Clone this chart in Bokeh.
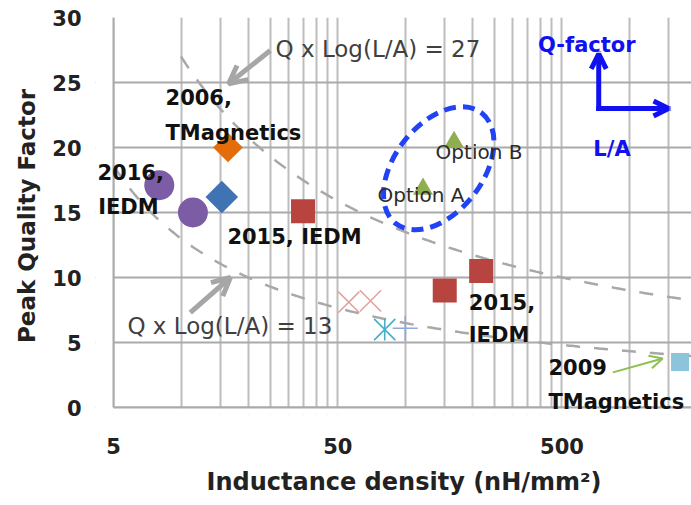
import numpy as np
from bokeh.plotting import figure
from bokeh.models import (FixedTicker, NumeralTickFormatter, Label, Arrow,
                          OpenHead, Range1d, Title)
from bokeh.embed import file_html
from bokeh.resources import INLINE

# ---- data: inductance density (nH/mm^2) vs. peak quality factor ----
tmag2006_x = [16.2]
tmag2006_y = [20.0]
blue_x = [15.2]
blue_y = [16.2]
iedm2016_x = [8.0, 11.3]
iedm2016_y = [17.1, 15.0]
iedm2015_x = [35.0, 150.0, 218.0]
iedm2015_y = [15.1, 9.0, 10.5]
tmag2009_x = [1680.0]
tmag2009_y = [3.5]
option_x = [120.0, 165.0]
option_y = [16.8, 20.4]
option_names = ["Option A", "Option B"]
xmark_x = [56.0, 70.0]
xmark_y = [8.1, 8.2]
star_x = [81.0]
star_y = [6.0]
plus_x = [100.0]
plus_y = [6.1]

# iso-lines Q x log10(L/A) = const
iso_levels = [27, 13]
iso_start = [10.0, 5.0]

x_ticks = [5, 50, 500]
x_minor = [10, 15, 20, 25, 30, 35, 40, 45,
           100, 150, 200, 250, 300, 350, 400, 450,
           1000, 1500]
y_ticks = [0, 5, 10, 15, 20, 25, 30]

X_AXIS_MIN, X_MAX = 5, 1890
Y_MIN, Y_MAX = 0, 30
# the frame is a little larger than the axes so that captions can hang
# over the axis lines; the extra strip is masked in white
PX_PER_DECADE = 224.2
PX_PER_UNIT = 13.0
PAD_LEFT, PAD_BOTTOM = 18, 7
X_LO = X_AXIS_MIN * 10 ** (-PAD_LEFT / PX_PER_DECADE)
Y_LO = Y_MIN - PAD_BOTTOM / PX_PER_UNIT

FONT = "DejaVu Sans"
GRID = "#bdbdbd"

p = figure(width=691, height=505, x_axis_type="log",
           x_range=Range1d(X_LO, X_MAX), y_range=Range1d(Y_LO, Y_MAX),
           output_backend="svg", toolbar_location=None,
           min_border_left=113 - PAD_LEFT, min_border_right=0,
           min_border_top=17, min_border_bottom=98 - PAD_BOTTOM)
p.outline_line_color = None
p.background_fill_color = "white"
p.border_fill_color = "white"

# axes and grid
p.xaxis.ticker = FixedTicker(ticks=x_ticks, minor_ticks=x_minor)
p.xaxis.formatter = NumeralTickFormatter(format="0")
p.yaxis.ticker = FixedTicker(ticks=y_ticks)
for ax in (p.xaxis[0], p.yaxis[0]):
    ax.axis_line_color = None
    ax.major_tick_line_color = None
    ax.minor_tick_line_color = None
    ax.major_label_text_font = FONT
    ax.major_label_text_font_style = "bold"
    ax.major_label_text_font_size = "21px"
    ax.major_label_text_color = "#222222"
    ax.axis_label_text_font = FONT
    ax.axis_label_text_font_style = "bold"
    ax.axis_label_text_color = "#222222"
p.xaxis.major_label_standoff = 24 - PAD_BOTTOM
p.yaxis.major_label_standoff = 26 - PAD_LEFT
p.yaxis.axis_label = "Peak Quality Factor"
p.yaxis.axis_label_text_font_size = "23px"
p.yaxis.axis_label_standoff = 9

# x title placed under the axis proper (not the padded frame)
p.add_layout(Title(text="Inductance density (nH/mm²)", align="left",
                   offset=111, standoff=19, text_font=FONT,
                   text_font_size="24px", text_font_style="bold",
                   text_color="#222222"), "below")

p.xgrid.grid_line_color = GRID
p.xgrid.grid_line_width = 2
p.xgrid.minor_grid_line_color = GRID
p.xgrid.minor_grid_line_width = 2
p.ygrid.grid_line_color = "#aaaaaa"
p.ygrid.grid_line_width = 2

# white strips outside the axes, then the axis lines themselves
p.quad(left=[X_LO, X_LO], right=[X_AXIS_MIN, X_MAX], bottom=[Y_LO, Y_LO],
       top=[Y_MAX, Y_MIN], fill_color="white", line_color=None)
p.line([X_AXIS_MIN, X_AXIS_MIN], [Y_MIN, Y_MAX], line_color="#aaaaaa",
       line_width=2)
p.line([X_AXIS_MIN, X_MAX], [Y_MIN, Y_MIN], line_color="#aaaaaa",
       line_width=2)

# dashed iso-Q lines
for level, start in zip(iso_levels, iso_start):
    L = np.geomspace(start, X_MAX, 300)
    p.line(L, level / np.log10(L), line_color="#a8a8a8", line_width=2.5,
           line_dash="14 14")

# markers
p.scatter(tmag2006_x, tmag2006_y, marker="square", angle=np.pi / 4, size=21,
          fill_color="#E46C0A", line_color=None)
p.scatter(blue_x, blue_y, marker="square", angle=np.pi / 4, size=23,
          fill_color="#3F73B3", line_color=None)
p.scatter(iedm2016_x, iedm2016_y, marker="circle", size=30,
          fill_color="#7C5CA4", line_color=None)
p.scatter(iedm2015_x, iedm2015_y, marker="square", size=24,
          fill_color="#B8443F", line_color=None)
p.scatter(tmag2009_x, tmag2009_y, marker="square", size=18,
          fill_color="#8CC5DB", line_color=None)
p.scatter(option_x, option_y, marker="triangle", size=20,
          fill_color="#8FAE4F", line_color=None)
p.scatter(xmark_x, xmark_y, marker="x", size=30, line_color="#E3A2A0",
          line_width=1.6)
# asterisk = diagonal cross plus a vertical stroke
p.scatter(star_x, star_y, marker="x", size=30, line_color="#4BACC6",
          line_width=1.6)
p.scatter(star_x, star_y, marker="dash", angle=np.pi / 2, size=22,
          line_color="#4BACC6", line_width=1.6)
p.scatter(plus_x, plus_y, marker="cross", size=25, line_color="#8EA9DB",
          line_width=1.6)

# dashed ring around the two options
p.ellipse(x=[141], y=[18.4], width=[140], height=[88], angle=[0.91],
          width_units="screen", height_units="screen",
          fill_color=None, line_color="#2142F5", line_width=5,
          line_dash="12 7")


def text(x, y, s, size="21px", bold=True, color="#111111", align="left",
         xo=0, yo=0):
    p.add_layout(Label(x=x, y=y, text=s, text_font=FONT,
                       text_font_style="bold" if bold else "normal",
                       text_font_size=size, text_color=color,
                       text_align=align, text_baseline="middle",
                       x_offset=xo, y_offset=yo))


# point annotations
text(8.53, 23.85, "2006,")
text(8.53, 21.15, "TMagnetics")
text(4.24, 18.08, "2016,")
text(4.27, 15.46, "IEDM")
text(16.1, 13.08, "2015, IEDM")
text(192, 8.08, "2015,")
text(192, 5.6, "IEDM")
text(435, 3.15, "2009")
text(435, 0.46, "TMagnetics")
text(option_x[0], option_y[0], option_names[0], size="20px", bold=False,
     color="#2b2b2b", align="center", xo=-2, yo=-6)
text(option_x[1], option_y[1], option_names[1], size="20px", bold=False,
     color="#2b2b2b", align="center", xo=25, yo=-10)

# iso-line captions with pointers
text(26.4, 27.6, "Q x Log(L/A) = 27", size="23px", bold=False, color="#404040")
text(5.77, 6.3, "Q x Log(L/A) = 13", size="23px", bold=False, color="#404040")
grey = "#a6a6a6"
p.add_layout(Arrow(x_start=25.0, y_start=27.46, x_end=16.3, y_end=24.9,
                   line_color=grey, line_width=5,
                   end=OpenHead(size=18, line_color=grey, line_width=5)))
p.add_layout(Arrow(x_start=11.0, y_start=7.3, x_end=16.6, y_end=10.0,
                   line_color=grey, line_width=5,
                   end=OpenHead(size=18, line_color=grey, line_width=5)))
green = "#8DC04F"
p.add_layout(Arrow(x_start=843, y_start=2.7, x_end=1406, y_end=3.77,
                   line_color=green, line_width=2,
                   end=OpenHead(size=13, line_color=green, line_width=2)))

# direction key
blue = "#1010F0"
p.add_layout(Arrow(x_start=729, y_start=23.0, x_end=729, y_end=27.2,
                   line_color=blue, line_width=5, line_cap="square",
                   end=OpenHead(size=15, line_color=blue, line_width=5)))
p.add_layout(Arrow(x_start=729, y_start=23.0, x_end=1493, y_end=23.0,
                   line_color=blue, line_width=5, line_cap="square",
                   end=OpenHead(size=15, line_color=blue, line_width=5)))
text(391, 27.85, "Q-factor", color=blue)
text(690, 19.9, "L/A", color=blue)

open("out.html", "w").write(file_html(p, INLINE))
